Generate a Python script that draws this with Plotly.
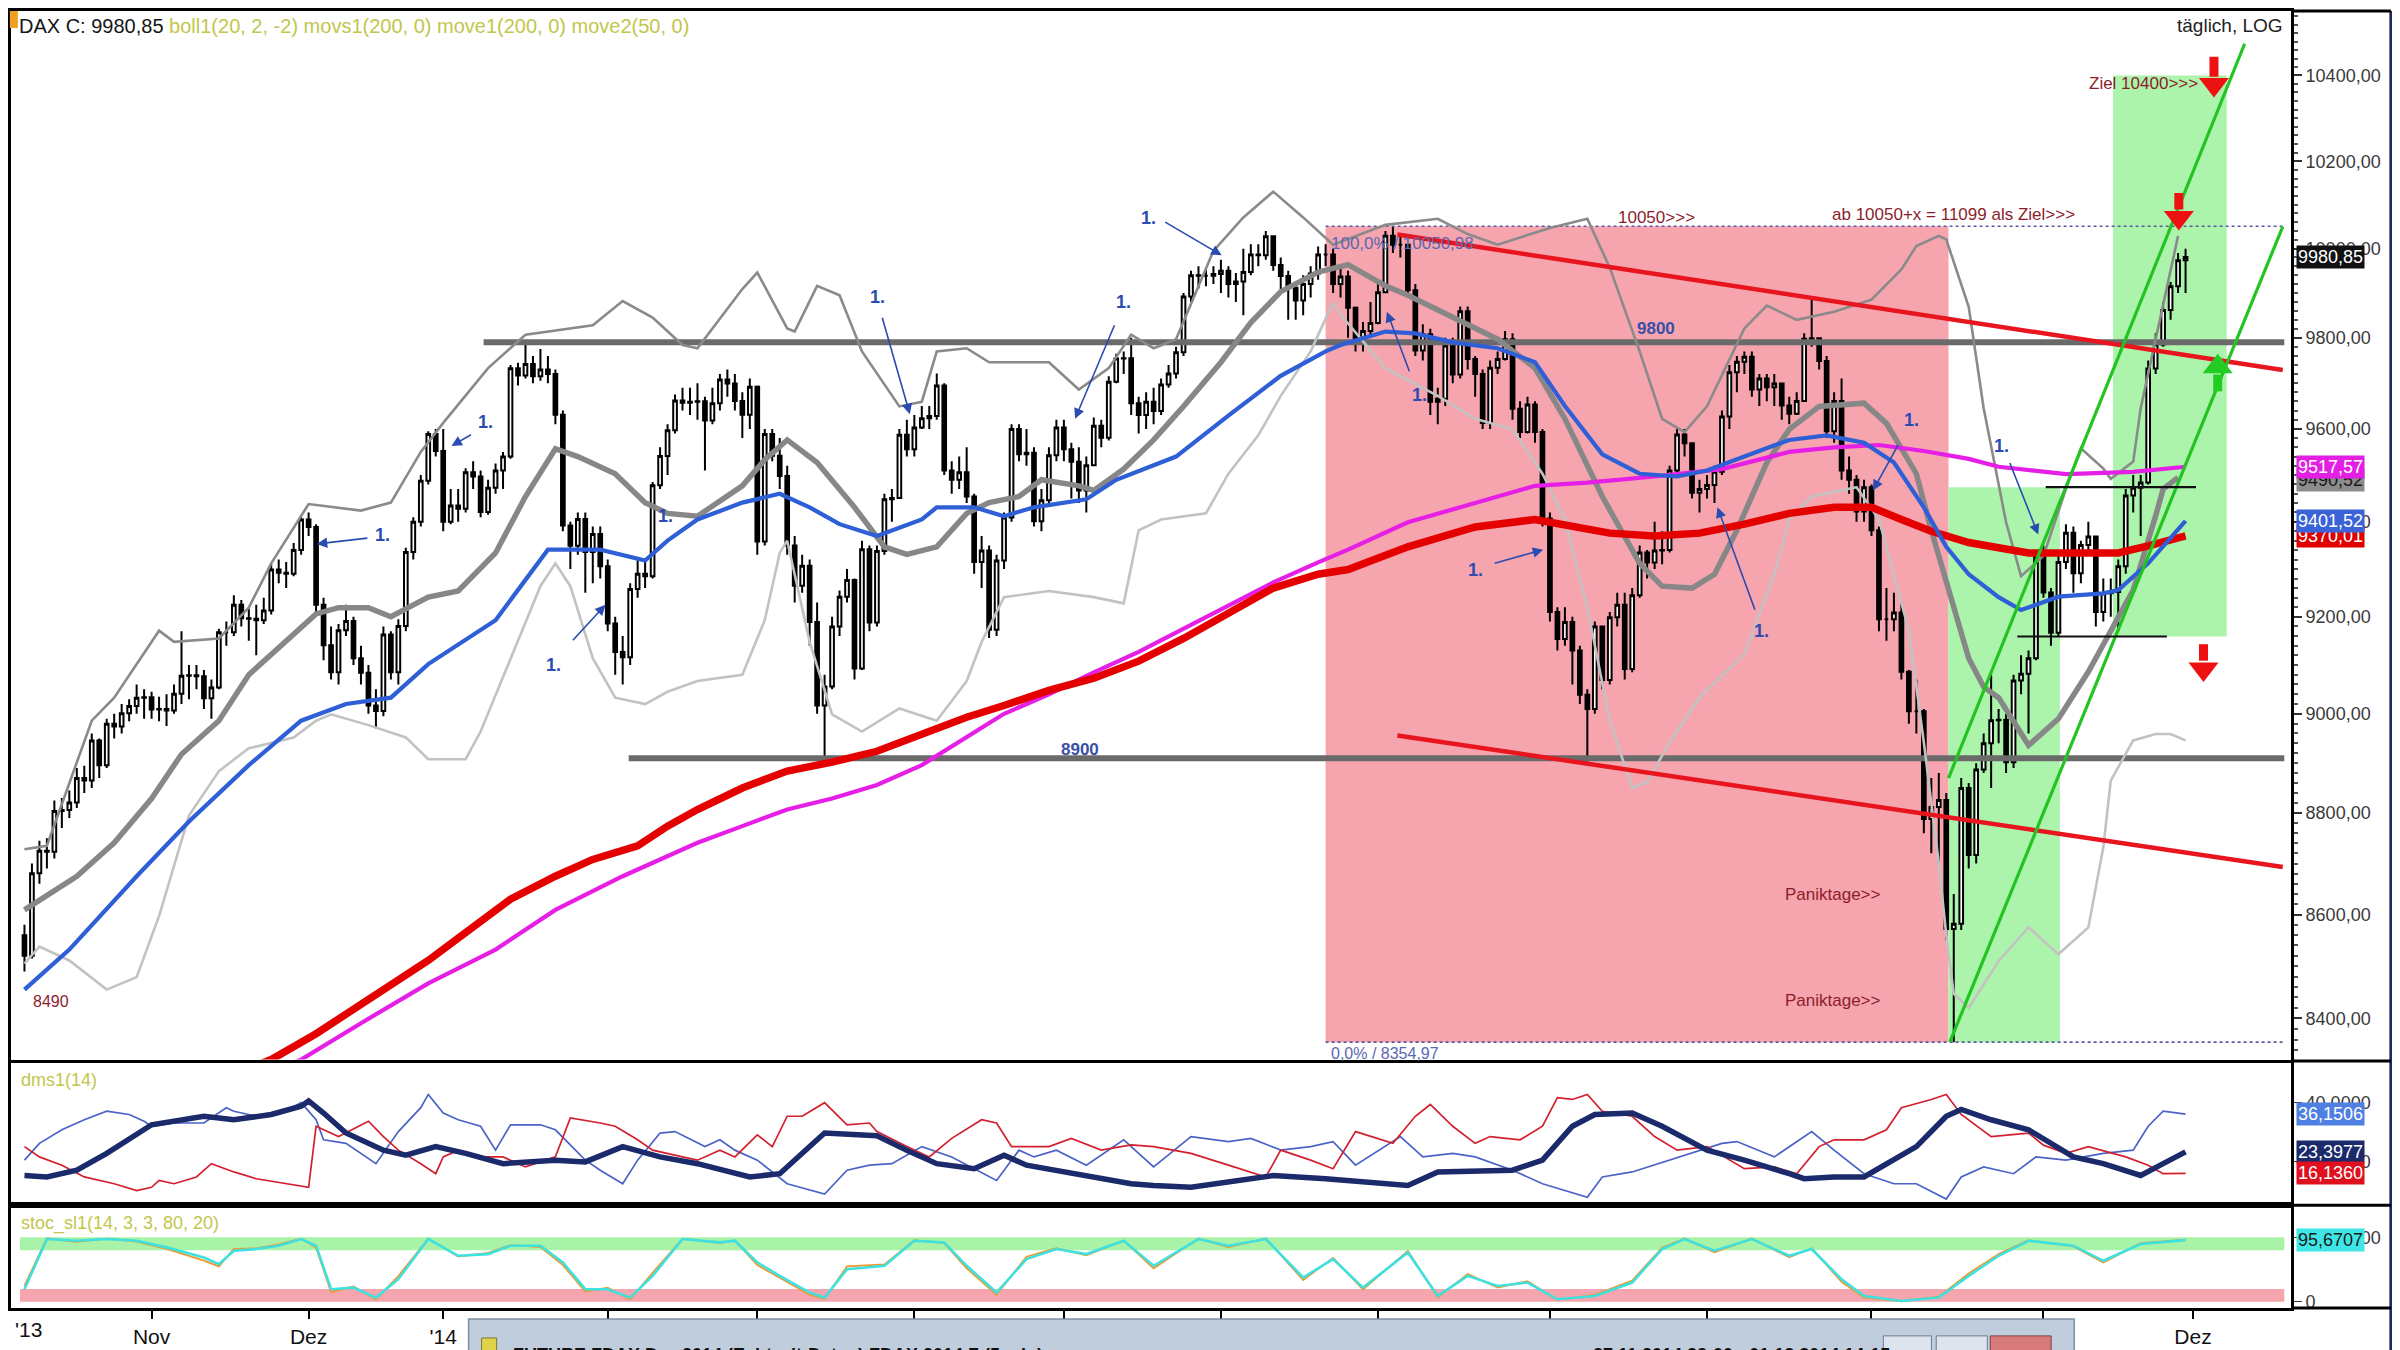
import math
import pandas as pd
import plotly.graph_objects as go

# ======================= DATA =======================
holidays = ["2013-12-24", "2013-12-25", "2013-12-26", "2013-12-31", "2014-01-01",
            "2014-04-18", "2014-04-21", "2014-05-01"]
trading_days = pd.bdate_range("2013-10-09", "2014-11-28", freq="C", holidays=holidays)

first_open = 8560
close = [
    8520, 8681, 8725, 8723, 8804, 8806, 8821, 8870, 8865, 8946, 8896, 8980, 8974, 9001, 9016, 9033, 9034,
    9009, 9010, 9007, 9041, 9078, 9079, 9077, 9032, 9054, 9168, 9168, 9225, 9197, 9196, 9193, 9213, 9299, 9292, 9290, 9340, 9405,
    9389, 9225, 9141, 9085, 9172, 9191, 9114, 9084, 9017, 9006, 9163, 9085, 9181, 9336, 9400, 9488, 9589, 9552,
    9400, 9435, 9428, 9506, 9497, 9421, 9473, 9510, 9540, 9733, 9717, 9742, 9715, 9730, 9720, 9631, 9392, 9349, 9406, 9336, 9374, 9306,
    9186, 9127, 9116, 9258, 9290, 9285, 9478, 9541, 9597, 9662, 9657, 9659, 9660, 9618, 9656, 9708, 9699, 9661, 9631, 9692,
    9358, 9589, 9542, 9498, 9350, 9265, 9307, 9189, 9017, 9056, 9180, 9242, 9277, 9093, 9342, 9188, 9338, 9448, 9451, 9587, 9556,
    9603, 9623, 9628, 9695, 9510, 9490, 9506, 9454, 9315, 9339, 9173, 9318, 9409, 9600, 9545, 9548, 9401, 9446, 9543, 9603,
    9556, 9529, 9467, 9521, 9607, 9581, 9703, 9754, 9755, 9656, 9630, 9659, 9639, 9697, 9721, 9768, 9892, 9940, 9939, 9939, 9943,
    9950, 9920, 9926, 9947, 9987, 9985, 10028, 9963, 9938, 9912, 9883, 9920, 9944, 9987, 9987, 9920, 9937, 9867, 9795, 9815, 9833,
    9902, 10029, 10009, 10009, 9906, 9772, 9808, 9659, 9666, 9783, 9719, 9859, 9753, 9720, 9613, 9734, 9753, 9797, 9644, 9593, 9653, 9593, 9407,
    9210, 9154, 9189, 9130, 9039, 9010, 9180, 9069, 9199, 9225, 9092, 9245, 9335, 9314, 9339, 9340, 9510, 9588, 9569, 9462, 9470,
    9479, 9507, 9627, 9724, 9747, 9758, 9686, 9710, 9691, 9699, 9651, 9633, 9661, 9798, 9799, 9749, 9595, 9661, 9510, 9490, 9422, 9474,
    9382, 9195, 9195, 9209, 9086, 9005, 9005, 8788, 8812, 8826, 8572, 8582, 8850, 8717, 8887, 8940, 8987, 8988, 8902, 9068, 9082, 9114, 9326,
    9251, 9167, 9315, 9377, 9291, 9351, 9369, 9210, 9249, 9252, 9306, 9456, 9473, 9484, 9732, 9785, 9862, 9915, 9974, 9980.85,
]
high = [
    8580, 8700, 8745, 8750, 8825, 8830, 8845, 8890, 8895, 8960, 8950, 8990, 9000, 9020, 9030, 9060, 9050,
    9045, 9035, 9040, 9060, 9170, 9100, 9100, 9090, 9070, 9175, 9190, 9245, 9235, 9220, 9225, 9240, 9310, 9320, 9315, 9355, 9410,
    9420, 9395, 9240, 9180, 9185, 9225, 9200, 9140, 9100, 9050, 9180, 9170, 9195, 9345, 9410, 9500, 9595, 9600,
    9600, 9470, 9470, 9515, 9530, 9510, 9490, 9525, 9550, 9740, 9745, 9794, 9760, 9775, 9760, 9730, 9640, 9400, 9420, 9420, 9390, 9390,
    9320, 9200, 9160, 9270, 9320, 9320, 9485, 9560, 9610, 9675, 9690, 9690, 9700, 9670, 9690, 9720, 9730, 9720, 9680, 9710,
    9695, 9600, 9600, 9580, 9520, 9370, 9330, 9320, 9230, 9080, 9200, 9255, 9300, 9280, 9360, 9350, 9350, 9460, 9470, 9600, 9620,
    9630, 9650, 9650, 9721, 9700, 9530, 9540, 9560, 9460, 9370, 9350, 9330, 9420, 9610, 9610, 9600, 9560, 9470, 9560, 9620,
    9620, 9570, 9560, 9540, 9625, 9620, 9715, 9765, 9770, 9800, 9670, 9680, 9690, 9710, 9740, 9780, 9900, 9950, 9960, 9955, 9960,
    9975, 9960, 9945, 10000, 10010, 10010, 10040, 10030, 9980, 9950, 9920, 9940, 9960, 10005, 10010, 10000, 9960, 9950, 9870, 9835, 9880,
    9920, 10040, 10051, 10030, 10010, 9920, 9830, 9820, 9690, 9800, 9800, 9870, 9870, 9760, 9730, 9750, 9770, 9815, 9810, 9660, 9670, 9660, 9600,
    9420, 9220, 9220, 9200, 9140, 9050, 9190, 9180, 9210, 9250, 9250, 9260, 9350, 9340, 9400, 9380, 9520, 9600, 9600, 9570, 9490,
    9500, 9520, 9640, 9740, 9760, 9770, 9770, 9720, 9720, 9720, 9700, 9670, 9680, 9810, 9891, 9800, 9760, 9680, 9710, 9540, 9500, 9490,
    9480, 9390, 9260, 9250, 9230, 9090, 9070, 9010, 8870, 8880, 8840, 8640, 8870, 8860, 8900, 8960, 9080, 9010, 9000, 9080, 9120, 9130, 9340,
    9350, 9260, 9330, 9395, 9390, 9360, 9400, 9370, 9280, 9280, 9320, 9470, 9500, 9500, 9750, 9810, 9880, 9925, 9990, 10000,
]
low = [
    8490, 8515, 8660, 8690, 8710, 8770, 8790, 8810, 8840, 8850, 8870, 8890, 8950, 8960, 8985, 9000, 8990,
    8990, 8985, 8975, 9000, 9020, 9030, 9050, 9010, 8990, 9050, 9140, 9160, 9180, 9150, 9120, 9185, 9205, 9270, 9260, 9285, 9330,
    9370, 9210, 9110, 9070, 9060, 9160, 9100, 9060, 9000, 8970, 8995, 9070, 9060, 9170, 9320, 9390, 9480, 9540,
    9380, 9395, 9400, 9420, 9470, 9410, 9415, 9460, 9470, 9535, 9695, 9710, 9700, 9705, 9700, 9610, 9380, 9300, 9330, 9250, 9270, 9280,
    9170, 9080, 9060, 9100, 9240, 9260, 9280, 9470, 9500, 9590, 9640, 9630, 9620, 9510, 9610, 9640, 9670, 9640, 9580, 9600,
    9330, 9350, 9530, 9470, 9330, 9230, 9250, 9140, 9000, 8907, 9050, 9160, 9230, 9070, 9090, 9170, 9180, 9330, 9400, 9450, 9540,
    9540, 9600, 9600, 9620, 9500, 9460, 9470, 9440, 9290, 9260, 9156, 9160, 9300, 9400, 9530, 9520, 9390, 9380, 9440, 9530,
    9530, 9450, 9440, 9420, 9520, 9560, 9575, 9700, 9720, 9630, 9590, 9600, 9610, 9630, 9690, 9710, 9760, 9880, 9910, 9915, 9920,
    9900, 9890, 9880, 9850, 9940, 9960, 9975, 9950, 9900, 9840, 9840, 9850, 9890, 9930, 9960, 9900, 9890, 9800, 9770, 9770, 9800,
    9830, 9900, 9990, 9980, 9890, 9760, 9750, 9630, 9610, 9650, 9700, 9710, 9730, 9670, 9600, 9600, 9720, 9750, 9620, 9580, 9590, 9570, 9390,
    9190, 9130, 9140, 9060, 9020, 8903, 9000, 9050, 9060, 9180, 9070, 9085, 9240, 9280, 9300, 9310, 9335, 9500, 9540, 9450, 9420,
    9450, 9440, 9500, 9600, 9680, 9720, 9670, 9650, 9660, 9650, 9620, 9610, 9630, 9660, 9780, 9730, 9580, 9570, 9490, 9460, 9400, 9400,
    9370, 9170, 9150, 9170, 9070, 8980, 8960, 8760, 8720, 8700, 8550, 8355, 8570, 8690, 8700, 8880, 8850, 8940, 8880, 8890, 9040, 8960, 9110,
    9240, 9140, 9160, 9300, 9250, 9270, 9330, 9180, 9190, 9200, 9170, 9290, 9420, 9370, 9480, 9720, 9780, 9840, 9900, 9900,
]

# Bollinger(20,2) upper / middle / lower  (day index, value)
bb_up_idx = [0, 3, 9, 12, 18, 20, 26, 30, 33, 38, 45, 49, 53, 56, 62, 67, 76, 80, 84, 88, 90, 96, 98, 102, 103, 106, 109, 112, 117, 120,
             122, 126, 129, 137, 141, 145, 148, 151, 154, 159, 163, 167, 171, 175, 182, 189, 193, 197, 204, 209, 212, 216, 219, 222, 225,
             230, 233, 237, 242, 247, 251, 253, 256, 257, 260, 262, 265, 267, 270, 273, 275, 278, 279, 282, 283, 286, 288]
bb_up_val = [8728, 8735, 8986, 9033, 9171, 9148, 9155, 9219, 9312, 9438, 9424, 9441, 9550, 9613, 9733, 9807, 9828, 9882, 9845, 9784,
             9777, 9909, 9946, 9821, 9814, 9916, 9895, 9770, 9649, 9659, 9770, 9777, 9746, 9746, 9686, 9733, 9807, 9777, 9797, 9995,
             10071, 10130, 10071, 10009, 10054, 10068, 10033, 10009, 10047, 10068, 9957, 9770, 9622, 9593, 9649, 9821, 9872, 9840, 9858, 9885,
             9953, 10006, 10029, 10021, 9869, 9645, 9399, 9285, 9328, 9470, 9558, 9514, 9492, 9529, 9645, 9869, 10029]
bb_mid_idx = [0, 3, 7, 12, 17, 21, 26, 30, 35, 39, 42, 46, 49, 54, 58, 63, 67, 71, 74, 79, 83, 86, 90, 96, 99, 102, 106, 111, 115, 118,
              122, 126, 129, 133, 136, 141, 143, 147, 151, 155, 160, 164, 168, 173, 177, 182, 185, 191, 197, 202, 206, 211, 216, 219, 223,
              226, 229, 233, 236, 240, 246, 249, 253, 255, 258, 260, 262, 264, 268, 272, 276, 278, 282, 285, 286, 288]
bb_mid_val = [8609, 8636, 8675, 8741, 8829, 8918, 8986, 9080, 9148, 9206, 9219, 9219, 9200, 9241, 9254, 9334, 9454, 9557, 9540, 9503,
              9441, 9418, 9412, 9477, 9533, 9576, 9527, 9431, 9347, 9331, 9347, 9418, 9441, 9454, 9490, 9477, 9467, 9513, 9576, 9649,
              9746, 9834, 9903, 9947, 9964, 9916, 9895, 9845, 9797, 9733, 9622, 9454, 9312, 9264, 9260, 9289, 9382, 9527, 9599, 9649,
              9656, 9612, 9503, 9382, 9219, 9114, 9055, 9033, 8936, 8990, 9086, 9141, 9256, 9413, 9470, 9495]
bb_lo_idx = [0, 2, 6, 11, 15, 18, 22, 26, 30, 36, 39, 41, 46, 51, 54, 59, 61, 65, 69, 71, 73, 76, 79, 83, 86, 90, 96, 99, 101, 102,
             105, 108, 112, 117, 122, 126, 128, 131, 137, 143, 147, 149, 152, 158, 161, 165, 168, 172, 175, 176, 182, 189, 194, 199, 203,
             206, 209, 212, 215, 217, 220, 224, 230, 234, 236, 239, 245, 248, 252, 254, 256, 257, 258, 260, 264, 268, 272, 276, 278, 279,
             282, 285, 287, 289]
bb_lo_val = [8505, 8538, 8511, 8455, 8479, 8597, 8795, 8884, 8930, 8952, 8986, 8999, 8977, 8952, 8908, 8908, 8964, 9114, 9264, 9312,
             9264, 9114, 9033, 9020, 9045, 9067, 9080, 9193, 9334, 9360, 9148, 8999, 8964, 9011, 8986, 9067, 9148, 9241, 9254, 9241,
             9228, 9382, 9405, 9418, 9503, 9586, 9672, 9770, 9879, 9852, 9733, 9672, 9622, 9599, 9503, 9405, 9219, 8986, 8850, 8862,
             8942, 9033, 9123, 9289, 9405, 9454, 9474, 9405, 9171, 8942, 8700, 8560, 8447, 8420, 8510, 8575, 8523, 8575, 8732, 8865,
             8946, 8959, 8959, 8946]
# move2(50) blue, move1(200) red, movs1(200) magenta
ema50_idx = [0, 6, 15, 22, 30, 37, 43, 49, 54, 63, 70, 77, 83, 86, 90, 96, 101, 105, 109, 114, 120, 122, 127, 131, 135, 142, 146, 154,
             161, 168, 174, 176, 182, 186, 191, 197, 202, 206, 211, 216, 221, 225, 230, 236, 241, 246, 250, 254, 257, 260, 264, 267,
             272, 278, 280, 284, 289]
ema50_val = [8455, 8532, 8675, 8783, 8896, 8986, 9020, 9033, 9102, 9193, 9341, 9341, 9318, 9360, 9405, 9441, 9460, 9431, 9395, 9370,
             9405, 9431, 9431, 9412, 9431, 9448, 9490, 9540, 9629, 9716, 9770, 9784, 9814, 9810, 9790, 9777, 9746, 9650, 9545, 9503,
             9497, 9510, 9540, 9576, 9586, 9570, 9527, 9431, 9347, 9289, 9241, 9214, 9242, 9249, 9256, 9312, 9402]
ema200_idx = [27, 33, 39, 46, 54, 60, 65, 71, 76, 82, 86, 90, 96, 102, 108, 114, 120, 126, 131, 137, 143, 149, 155, 161, 167, 173, 177,
              185, 194, 202, 206, 212, 218, 224, 230, 236, 242, 247, 251, 255, 260, 264, 268, 275, 280, 284, 289]
ema200_val = [8290, 8322, 8371, 8435, 8511, 8576, 8630, 8675, 8708, 8735, 8774, 8807, 8850, 8884, 8902, 8924, 8958, 8993, 9017, 9048,
              9073, 9108, 9155, 9206, 9260, 9289, 9299, 9347, 9389, 9405, 9395, 9376, 9370, 9376, 9395, 9418, 9431, 9431, 9405, 9380,
              9356, 9345, 9334, 9334, 9334, 9349, 9370]
sma200_idx = [31, 37, 45, 54, 63, 71, 80, 90, 96, 102, 108, 114, 120, 126, 131, 137, 143, 149, 155, 161, 167, 173, 177, 185, 194, 202,
              209, 218, 227, 236, 242, 248, 254, 260, 264, 273, 282, 289]
sma200_val = [8290, 8322, 8391, 8467, 8532, 8609, 8675, 8741, 8774, 8807, 8829, 8856, 8896, 8952, 9000, 9040, 9085, 9127, 9175, 9225,
              9272, 9314, 9341, 9399, 9441, 9477, 9484, 9497, 9513, 9550, 9560, 9565, 9552, 9535, 9518, 9502, 9507, 9518]

# dms1(14): ADX (thick navy), +DI (blue), -DI (red)
adx_idx = [0, 3, 7, 11, 17, 24, 28, 33, 37, 38, 40, 43, 48, 51, 55, 59, 64, 71, 75, 80, 85, 90, 97, 101, 107, 114, 118, 122, 127, 131,
           134, 140, 148, 151, 156, 167, 174, 185, 189, 199, 203, 207, 210, 215, 219, 225, 230, 236, 238, 242, 246, 253, 257, 259, 263,
           268, 274, 278, 283, 286, 289]
adx_val = [15.4, 14.9, 17.2, 22.9, 32.6, 35.5, 34.3, 36.1, 38.9, 40.7, 36.6, 29.8, 24.0, 22.3, 25.2, 22.9, 19.4, 20.6, 20.0, 25.2,
           21.7, 19.4, 14.9, 16.0, 29.8, 28.9, 24.0, 19.4, 17.7, 22.3, 18.9, 16.0, 12.6, 12.0, 11.4, 15.4, 14.3, 12.0, 16.6, 17.2,
           20.6, 32.1, 36.1, 36.6, 32.1, 24.0, 20.6, 16.0, 14.3, 14.9, 14.9, 25.2, 35.5, 37.8, 34.3, 30.9, 21.7, 19.4, 15.4, 19.4, 23.4]
pdi_idx = [0, 2, 5, 8, 11, 14, 16, 17, 20, 24, 27, 28, 31, 34, 37, 39, 40, 43, 47, 50, 53, 54, 56, 58, 61, 63, 65, 69, 71, 75,
           77, 80, 82, 85, 87, 91, 93, 95, 98, 102, 107, 110, 113, 116, 120, 124, 130, 133, 135, 138, 142, 147, 151, 156, 161, 164,
           168, 172, 175, 178, 184, 187, 191, 194, 199, 203, 209, 211, 215, 220, 224, 227, 229, 234, 239, 242, 246, 250, 253, 257,
           259, 262, 266, 269, 273, 278, 282, 284, 286, 289]
pdi_val = [20.6, 26.3, 30.9, 34.3, 37.2, 36.1, 33.8, 32.1, 33.2, 33.2, 38.4, 37.2, 35.5, 36.1, 40.1, 34.3, 27.5, 26.3, 19.4, 30.3,
           38.4, 42.9, 36.6, 34.3, 32.1, 24.0, 32.6, 32.6, 30.9, 20.6, 17.2, 12.6, 20.6, 29.8, 30.3, 25.2, 27.5, 24.0, 20.6, 12.6,
           9.1, 17.2, 18.9, 19.4, 25.2, 21.7, 13.7, 24.0, 21.7, 24.0, 18.9, 27.5, 18.3, 28.6, 26.9, 28.0, 24.0, 25.2, 26.9, 18.9,
           28.6, 21.7, 22.9, 21.7, 17.2, 12.6, 8.0, 14.9, 16.6, 20.6, 24.0, 26.3, 26.9, 21.7, 30.3, 24.0, 16.0, 12.6, 12.6, 7.4,
           14.9, 18.3, 16.0, 21.7, 20.6, 22.9, 24.0, 32.1, 37.2, 36.2]
mdi_idx = [0, 2, 5, 8, 12, 15, 17, 18, 20, 23, 25, 28, 31, 35, 38, 39, 42, 46, 48, 50, 53, 55, 56, 58, 61, 64, 67, 71, 73, 77,
           79, 82, 84, 88, 90, 93, 95, 98, 100, 102, 104, 107, 110, 113, 114, 118, 121, 124, 128, 130, 132, 137, 140, 144, 148, 151,
           156, 161, 166, 168, 172, 175, 178, 183, 186, 188, 191, 194, 196, 200, 203, 205, 207, 209, 211, 215, 218, 221, 225, 230,
           234, 237, 240, 242, 246, 249, 251, 255, 257, 259, 263, 268, 270, 273, 276, 281, 284, 286, 289]
mdi_val = [25.2, 21.7, 18.9, 14.9, 12.6, 10.3, 11.4, 13.7, 12.6, 14.9, 19.4, 16.6, 14.3, 12.6, 11.4, 32.1, 28.6, 33.8, 28.6, 24.0,
           19.4, 16.0, 21.7, 24.0, 21.7, 21.7, 18.3, 21.7, 34.9, 33.2, 32.1, 27.5, 24.0, 21.7, 20.6, 24.0, 21.7, 29.2, 25.2, 35.5,
           35.5, 40.1, 32.6, 33.2, 30.3, 25.2, 21.7, 28.0, 34.3, 33.2, 25.2, 25.2, 28.0, 24.0, 25.8, 25.2, 22.9, 18.9, 14.9, 24.0,
           20.6, 17.7, 30.3, 26.3, 35.5, 39.5, 32.1, 26.3, 28.6, 27.5, 32.1, 41.8, 41.2, 42.9, 37.2, 35.5, 28.6, 24.0, 25.2, 17.7,
           18.3, 16.0, 25.2, 27.5, 27.5, 30.9, 38.4, 41.2, 42.9, 36.1, 28.6, 29.8, 25.7, 22.9, 25.2, 21.7, 18.9, 16.0, 16.1]

# stoc_sl1(14,3,3,80,20): %K (orange) and %D (cyan)
stoch_idx = [0, 3, 7, 11, 15, 19, 24, 26, 28, 31, 34, 37, 39, 41, 44, 47, 50, 54, 58, 62, 65, 69, 72, 75, 78, 81, 84, 88, 93, 95,
             98, 101, 105, 107, 110, 115, 119, 123, 126, 130, 134, 138, 142, 147, 151, 157, 161, 166, 171, 175, 179, 185, 189, 193,
             197, 201, 205, 210, 215, 219, 222, 226, 231, 236, 239, 243, 246, 251, 256, 260, 264, 268, 274, 278, 283, 289]
stoch_d = [19.6, 97.3, 94.7, 97.3, 94.7, 84.4, 68.8, 58.4, 79.2, 81.8, 87.0, 97.3, 87.0, 19.6, 22.1, 6.6, 35.1, 97.3, 71.4, 74.0,
           87.0, 87.0, 61.0, 19.6, 19.6, 6.6, 40.3, 97.3, 92.1, 94.7, 61.0, 40.3, 14.4, 6.6, 50.7, 55.9, 94.7, 92.1, 55.9, 14.4,
           66.2, 81.8, 74.0, 94.7, 55.9, 97.3, 87.0, 97.3, 37.7, 66.2, 22.1, 76.6, 9.2, 40.3, 24.7, 29.9, 4.0, 9.2, 29.9, 81.8,
           97.3, 79.2, 97.3, 71.4, 81.8, 35.1, 9.2, 1.4, 6.6, 40.3, 71.4, 94.7, 87.0, 63.6, 89.6, 95.7]
stoch_k = [25.0, 98.5, 93.0, 98.0, 93.5, 82.0, 64.0, 55.0, 82.0, 83.0, 89.0, 98.0, 84.0, 15.0, 24.0, 4.0, 40.0, 98.0, 70.0, 76.0,
           88.0, 85.0, 57.0, 16.0, 22.0, 4.0, 45.0, 98.0, 91.0, 95.0, 57.0, 37.0, 11.0, 5.0, 55.0, 58.0, 95.5, 91.0, 52.0, 11.0,
           70.0, 83.0, 72.0, 95.0, 52.0, 98.0, 85.0, 98.0, 34.0, 68.0, 19.0, 79.0, 7.0, 43.0, 22.0, 32.0, 3.0, 11.0, 33.0, 84.0,
           98.0, 77.0, 98.0, 69.0, 83.0, 31.0, 7.0, 1.0, 8.0, 44.0, 74.0, 95.5, 86.0, 61.0, 91.0, 96.5]
stoch_levels = [20, 80]

# drawings on the price panel (day index, price)
fib_levels = [8354.97, 10050.98]
fib_box_idx = [174.0, 257.3]
fib_line_end = 302.0
support_levels = [8910, 9790]
support_start = [80.8, 61.4]
support_end = 302.2
green_zone1 = dict(idx=[257.3, 272.2], price=[8354.97, 9474])
green_zone2 = dict(idx=[279.3, 294.5], price=[9159, 10400])
trend_upper = dict(idx=[183.6, 302.0], price=[10032, 9729])
trend_lower = dict(idx=[183.6, 302.0], price=[8956, 8693])
channel_a = dict(idx=[257.3, 296.9], price=[8870, 10475])
channel_b = dict(idx=[257.5, 302.0], price=[8356, 10050])
range_levels = [9159, 9474]
range_start = [266.5, 270.3]
range_end = [286.5, 290.4]
# block arrows: (day index, shaft start, shaft end, head)
down_arrows = [(292.8, 10444, 10397, 10379), (288.1, 10127, 10089, 10071), (291.4, 9143, 9109, 9092)]
up_arrows = [(293.3, 9682, 9719, 9736)]
# "1." markers: label position and arrow head
one_labels = [(61.6, 9616), (47.9, 9373), (70.8, 9101), (85.7, 9412), (114.1, 9892), (147.0, 9879), (150.3, 10070),
              (186.5, 9675), (194.1, 9299), (232.3, 9171), (252.4, 9620), (264.4, 9563)]
one_arrows = [(57.1, 9563, 21, -12), (39.1, 9353, 52, -6), (77.7, 9225, -34, 37), (118.4, 9632, -28, -98),
              (140.5, 9622, 40, -95), (160.1, 9985, -58, -34), (182.2, 9858, 23, 61), (203.1, 9341, -50, 14),
              (226.4, 9431, 38, 104), (247.2, 9467, 26, -47), (269.3, 9373, -29, -73)]

last_values = dict(close=9980.85, sma200=9517.57, bbmid=9490.52, ema50=9401.52, ema200=9370.01,
                   pdi=36.1506, adx=23.3977, mdi=16.1360, stoch=95.6707)
price_ticks = [8400, 8600, 8800, 9000, 9200, 9400, 9600, 9800, 10000, 10200, 10400]

# ======================= FIGURE =======================
FONT = "Liberation Sans, Arial, sans-serif"
NARROW = "Liberation Sans Narrow, Liberation Sans, Arial, sans-serif"
DARKRED = "#8c1d2c"
LBLUE = "#3b4fa5"
L = math.log10
YMIN, YMAX = 8322, 10553


def dom(p):
    """price -> fraction of the log price axis (for shapes drawn below the candles)"""
    return (L(p) - L(YMIN)) / (L(YMAX) - L(YMIN))


idx = list(range(len(close)))
opens = [first_open] + close[:-1]

fig = go.Figure()


def rect(x0, x1, y0, y1, color, xa="x", ya="y"):
    fig.add_trace(go.Scatter(x=[x0, x1, x1, x0, x0], y=[y0, y0, y1, y1, y0], mode="lines", fill="toself",
                             fillcolor=color, line=dict(width=0), xaxis=xa, yaxis=ya,
                             hoverinfo="skip", showlegend=False))


def seg(xs, ys, color, width, dash="solid", xa="x", ya="y"):
    fig.add_trace(go.Scatter(x=xs, y=ys, mode="lines", line=dict(color=color, width=width, dash=dash),
                             xaxis=xa, yaxis=ya, hoverinfo="skip", showlegend=False))


for lv in fib_levels:
    seg([fib_box_idx[0], fib_line_end], [lv, lv], "#5a5aa0", 1.6, "dot")
for lv, x0 in zip(support_levels, support_start):
    seg([x0, support_end], [lv, lv], "#6a6a6a", 6)

# indicators
seg(bb_lo_idx, bb_lo_val, "#c2c2c2", 2.6)
seg(bb_up_idx, bb_up_val, "#8a8a8a", 2.6)
seg(bb_mid_idx, bb_mid_val, "#878787", 5.5)
seg(sma200_idx, sma200_val, "#e51fe5", 4.2)
seg(ema200_idx, ema200_val, "#e50000", 7.5)
seg(ema50_idx, ema50_val, "#2f5fd6", 4.2)

fig.add_trace(go.Candlestick(
    x=idx, open=opens, high=high, low=low, close=close, xaxis="x", yaxis="y",
    increasing=dict(line=dict(color="black", width=2.0), fillcolor="white"),
    decreasing=dict(line=dict(color="black", width=2.0), fillcolor="black"),
    whiskerwidth=0, hoverinfo="skip", showlegend=False))

# drawings
for t in (trend_upper, trend_lower):
    seg(t["idx"], t["price"], "#e8141e", 4.5)
for c in (channel_a, channel_b):
    seg(c["idx"], c["price"], "#22c422", 3.2)
for lv, x0, x1 in zip(range_levels, range_start, range_end):
    seg([x0, x1], [lv, lv], "#111111", 2.2)
for xa_, s0, s1, hd in down_arrows:
    seg([xa_, xa_], [s0, s1], "#ee1111", 9)
    fig.add_trace(go.Scatter(x=[xa_], y=[hd], mode="markers", hoverinfo="skip", showlegend=False,
                             marker=dict(symbol="triangle-down", size=26, color="#ee1111", line=dict(width=0))))
for xa_, s0, s1, hd in up_arrows:
    seg([xa_, xa_], [s0, s1], "#22cc22", 9)
    fig.add_trace(go.Scatter(x=[xa_], y=[hd], mode="markers", hoverinfo="skip", showlegend=False,
                             marker=dict(symbol="triangle-up", size=26, color="#22cc22", line=dict(width=0))))

# DMS panel
seg(pdi_idx, pdi_val, "#4b63c6", 1.7, xa="x2", ya="y2")
seg(mdi_idx, mdi_val, "#d3202f", 1.7, xa="x2", ya="y2")
seg(adx_idx, adx_val, "#1b2a6b", 5.5, xa="x2", ya="y2")

# Stochastic panel
rect(-0.6, 302.2, stoch_levels[1], 100, "#a8f3a8", xa="x3", ya="y3")
rect(-0.6, 302.2, 0, stoch_levels[0], "#f4a5ad", xa="x3", ya="y3")
seg(stoch_idx, stoch_k, "#f0982a", 1.8, xa="x3", ya="y3")
seg(stoch_idx, stoch_d, "#3fe0e0", 2.6, xa="x3", ya="y3")

# month ticks
month_names = {1: "'14", 2: "Feb", 3: "Mär", 4: "Apr", 5: "Mai", 6: "Jun", 7: "Jul", 8: "Aug",
               9: "Sep", 10: "Okt", 11: "Nov", 12: "Dez"}
month_idx, month_lbl = [], []
for i in range(1, len(trading_days)):
    if trading_days[i].month != trading_days[i - 1].month:
        month_idx.append(i)
        month_lbl.append(month_names[trading_days[i].month])
month_idx.append(len(trading_days))
month_lbl.append("Dez")

axis_common = dict(showline=True, linecolor="black", linewidth=3, mirror=True, showgrid=False, zeroline=False)
minor_vals = list(range(8340, 10560, 20))

# the page body has an 8px default margin: the figure is made 8px smaller so that
# the plot area lands at page x 9..2291, y 8..1308
fig.update_layout(
    width=2392, height=1342, margin=dict(l=1, r=109, t=0, b=42),
    paper_bgcolor="white", plot_bgcolor="white", showlegend=False,
    xaxis=dict(domain=[0, 1], anchor="y", range=[-1.8, 303.1], showticklabels=False, ticks="",
               rangeslider=dict(visible=False), **axis_common),
    xaxis2=dict(domain=[0, 1], anchor="y2", matches="x", showticklabels=False, ticks="", **axis_common),
    xaxis3=dict(domain=[0, 1], anchor="y3", matches="x", tickmode="array", tickvals=month_idx, ticktext=month_lbl,
                ticks="outside", ticklen=8, tickwidth=2, tickcolor="black",
                tickfont=dict(family=NARROW, size=21, color="#111"), **axis_common),
    yaxis=dict(domain=[0.1915, 1], anchor="x", type="log", range=[L(YMIN), L(YMAX)], side="right",
               tickmode="array", tickvals=price_ticks, ticktext=[f"{v},00" for v in price_ticks],
               ticks="outside", ticklen=8, tickwidth=1.5, tickcolor="#333",
               tickfont=dict(family=FONT, size=18, color="#3a3a3a"),
               minor=dict(tickmode="array", tickvals=minor_vals, ticks="outside", ticklen=4, tickcolor="#555"),
               **axis_common),
    yaxis2=dict(domain=[0.0815, 0.1892], anchor="x2", range=[6.3, 53.7], side="right",
                tickmode="array", tickvals=[20, 40], ticktext=["20,0000", "40,0000"],
                ticks="outside", ticklen=8, tickcolor="#333", tickfont=dict(family=FONT, size=18, color="#3a3a3a"),
                **axis_common),
    yaxis3=dict(domain=[0, 0.0769], anchor="x3", range=[-9.5, 145], side="right",
                tickmode="array", tickvals=[0, 100], ticktext=["0", "100,0000"],
                ticks="outside", ticklen=8, tickcolor="#333", tickfont=dict(family=FONT, size=18, color="#3a3a3a"),
                **axis_common),
)

ann = []


def text(x, y, s, color, size=17, xanchor="center", yanchor="middle", xref="x", yref="y", family=FONT, **kw):
    ann.append(dict(x=x, y=y, text=s, xref=xref, yref=yref, showarrow=False, xanchor=xanchor, yanchor=yanchor,
                    font=dict(family=family, size=size, color=color), **kw))


# header
text(0, 1, "<span style='color:#151515'>DAX C: 9980,85</span> <span style='color:#c2c64a'>boll1(20, 2, -2) "
     "movs1(200, 0) move1(200, 0) move2(50, 0)</span>", "#151515", size=20, xanchor="left", yanchor="top",
     xref="paper", yref="paper", family=NARROW, xshift=6, yshift=-2)
text(1, 1, "täglich, LOG", "#222", size=19, xanchor="right", yanchor="top", xref="paper", yref="paper",
     xshift=-6, yshift=-2)
text(0, 0.1892, "dms1(14)", "#c2c64a", size=18, xanchor="left", yanchor="top", xref="paper", yref="paper",
     family=NARROW, xshift=8, yshift=-5)
text(0, 0.0769, "stoc_sl1(14, 3, 3, 80, 20)", "#c2c64a", size=18, xanchor="left", yanchor="top",
     xref="paper", yref="paper", family=NARROW, xshift=8, yshift=-3)
text(0.6, -0.0169, "'13", "#111", size=21, xref="x3", yref="paper", family=NARROW)

# chart notes
text(3.5, L(8432), "8490", DARKRED, size=16)
text(218.2, L(10071), "10050&gt;&gt;&gt;", DARKRED, size=17)
text(257.9, L(10078), "ab 10050+x = 11099 als Ziel&gt;&gt;&gt;", DARKRED, size=17)
text(283.4, L(10382), "Ziel 10400&gt;&gt;&gt;", DARKRED, size=17)
text(218.2, L(9821), "<b>9800</b>", LBLUE, size=17)
text(141.1, L(8928), "<b>8900</b>", LBLUE, size=17)
text(174.4, L(10012), "100,0% / 10050,98", "#5a68b0", size=17, xanchor="left")
text(174.4, L(8333), "0,0% / 8354,97", "#5a68b0", size=16, xanchor="left")
text(241.9, L(8640), "Paniktage&gt;&gt;", DARKRED, size=17)
text(241.9, L(8435), "Paniktage&gt;&gt;", DARKRED, size=17)
for x, p in one_labels:
    text(x, L(p), "<b>1.</b>", "#2a4bb0", size=18)
for x, p, axp, ayp in one_arrows:
    ann.append(dict(x=x, y=L(p), xref="x", yref="y", ax=axp, ay=ayp, axref="pixel", ayref="pixel", text="",
                    showarrow=True, arrowhead=2, arrowsize=1.3, arrowwidth=1.6, arrowcolor="#2a4bb0"))


# right-hand value boxes
def vbox(v, s, bg, fg, yref):
    ann.append(dict(x=1, y=v, xref="paper", yref=yref, text=s, showarrow=False, xanchor="left", yanchor="middle",
                    xshift=5, bgcolor=bg, borderpad=1, font=dict(family=FONT, size=18, color=fg)))


lv = last_values
vbox(L(lv["close"]), "9980,85", "#111111", "white", "y")
vbox(L(lv["bbmid"]), "9490,52", "#8c8c8c", "#1a1a1a", "y")
vbox(L(lv["sma200"]), "9517,57", "#e21fe2", "white", "y")
vbox(L(lv["ema200"]), "9370,01", "#e00000", "white", "y")
vbox(L(lv["ema50"]), "9401,52", "#3a63d8", "white", "y")
vbox(lv["pdi"], "36,1506", "#4f7fe0", "white", "y2")
vbox(lv["adx"], "23,3977", "#1b2a6b", "white", "y2")
vbox(lv["mdi"], "16,1360", "#e0101e", "white", "y2")
vbox(lv["stoch"], "95,6707", "#3fe6e6", "#1a1a1a", "y3")

# window bar overlapping the time axis (screen capture); its text is cut by the picture edge
text(0.2195, -0.0365, "<b>FUTURE FDAX Dez 2014 (Echtzeit-Daten) FDAX 2014 Z (5 min)</b>", "#111", size=18,
     xanchor="left", xref="paper", yref="paper")
text(0.6928, -0.0365, "<b>27.11.2014 22:00 - 01.12.2014 14:15</b>", "#111", size=18, xanchor="left",
     xref="paper", yref="paper")
fig.update_layout(annotations=ann)

# zones drawn below everything (so the candles stay visible)
shapes = []
for zi, zp, col in ((fib_box_idx, fib_levels, "#f6a4ae"),
                    (green_zone1["idx"], green_zone1["price"], "#acf4ac"),
                    (green_zone2["idx"], green_zone2["price"], "#acf4ac")):
    shapes.append(dict(type="rect", xref="x", yref="y domain", x0=zi[0], x1=zi[1], y0=dom(zp[0]), y1=dom(zp[1]),
                       fillcolor=col, line=dict(width=0), layer="below"))

shapes += [
    dict(type="rect", xref="paper", yref="paper", x0=0.2007, x1=0.9049, y0=-0.0345, y1=-0.0085,
         fillcolor="#bfcddc", line=dict(color="#7d8ea3", width=1.5), layer="above"),
    dict(type="rect", xref="paper", yref="paper", x0=0.2064, x1=0.2130, y0=-0.0345, y1=-0.0231,
         fillcolor="#e2d24a", line=dict(color="#7a7a30", width=1), layer="above"),
    dict(type="rect", xref="paper", yref="paper", x0=0.8212, x1=0.8423, y0=-0.0345, y1=-0.0215,
         fillcolor="#dde4ee", line=dict(color="#6d7d93", width=1), layer="above"),
    dict(type="rect", xref="paper", yref="paper", x0=0.8444, x1=0.8668, y0=-0.0345, y1=-0.0215,
         fillcolor="#dde4ee", line=dict(color="#6d7d93", width=1), layer="above"),
    dict(type="rect", xref="paper", yref="paper", x0=0.8681, x1=0.8948, y0=-0.0345, y1=-0.0215,
         fillcolor="#d97a7a", line=dict(color="#7d4040", width=1), layer="above"),
    dict(type="rect", xref="paper", yref="paper", x0=-0.0005, x1=0.0030, y0=0.9869, y1=1.0,
         fillcolor="#f0a020", line=dict(width=0), layer="above"),
    dict(type="line", xref="paper", yref="paper", x0=1.0438, x1=1.0438, y0=-0.0345, y1=1.0,
         line=dict(color="#1c2a5c", width=3)),
]
for yy in (1.0, 0.1904, 0.0792, 0.0):
    shapes.append(dict(type="line", xref="paper", yref="paper", x0=1.0, x1=1.0438, y0=yy, y1=yy,
                       line=dict(color="black", width=3)))
fig.update_layout(shapes=shapes)

fig.write_html("out.html")
